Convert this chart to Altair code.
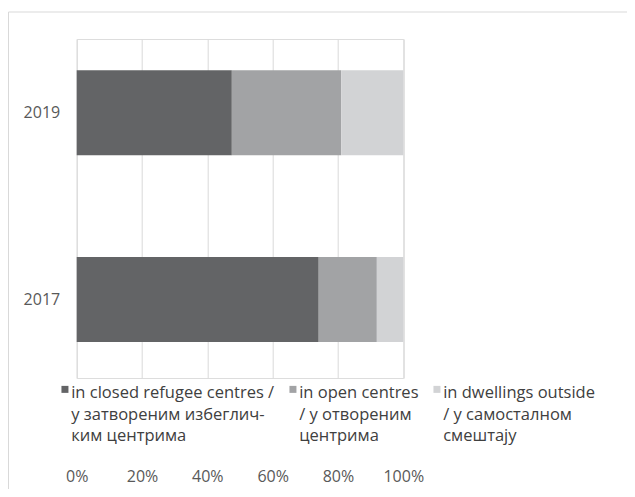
import altair as alt
import pandas as pd

years = ["2019", "2017"]
categories = ["closed", "open", "dwellings"]
closed_vals = [47.5, 74.1]
open_vals = [33.5, 17.8]
dwelling_vals = [19.0, 8.1]
legend_lines = [
    ["in closed refugee centres /", "у затвореним избеглич-", "ким центрима"],
    ["in open centres", "/ у отвореним", "центрима"],
    ["in dwellings outside", "/ у самосталном", "смештају"],
]
x_ticks = [0, 20, 40, 60, 80, 100]
colors = ["#636466", "#a2a3a5", "#d2d3d5"]

rows = []
for i, y in enumerate(years):
    for j, (c, v) in enumerate(zip(categories, [closed_vals[i], open_vals[i], dwelling_vals[i]])):
        rows.append({"year": y, "cat": c, "value": v, "ord": j})
df = pd.DataFrame(rows)

def arr(lines):
    return "[" + ",".join("'" + s + "'" for s in lines) + "]"

label_expr = " : ".join(
    f"datum.value == '{c}' ? {arr(l)}" for c, l in zip(categories[:-1], legend_lines[:-1])
) + " : " + arr(legend_lines[-1])

font = "Open Sans"
DY = -4
DX = -4

bars = alt.Chart(df).mark_bar(strokeWidth=0).encode(
    y=alt.Y("year:N", sort=years, title=None,
            scale=alt.Scale(paddingInner=0.545, paddingOuter=0.18, align=0.465),
            axis=alt.Axis(domain=False, ticks=False, labelPadding=17 + DX, labelFontSize=16,
                          labelOffset=-DY, labelColor="#595959", labelFont=font)),
    x=alt.X("value:Q", stack="zero", title=None,
            scale=alt.Scale(domain=[0, 100], nice=False),
            axis=alt.Axis(values=x_ticks, labelExpr="datum.value + '%'", domain=False, ticks=False,
                          grid=True, gridColor="#d9d9d9", labelPadding=90 - DY, labelOffset=-DX,
                          labelFontSize=16, labelFlush=False, labelColor="#595959", labelFont=font)),
    color=alt.Color("cat:N", scale=alt.Scale(domain=categories, range=colors),
                    legend=alt.Legend(title=None, orient="none", legendX=-20, legendY=342,
                                      direction="horizontal", columns=3, symbolType="square",
                                      symbolSize=49, symbolStrokeWidth=0, labelExpr=label_expr,
                                      labelFontSize=16.5, labelFont=font, labelColor="#404040",
                                      labelBaseline="top", labelOffset=2, columnPadding=10,
                                      labelLimit=400)),
    order=alt.Order("ord:Q"),
)

frame = alt.Chart(pd.DataFrame({"a": [0]})).mark_rect(fill=None, stroke="#d9d9d9", strokeWidth=1).encode(
    x=alt.value(-68.2), x2=alt.value(700), y=alt.value(-27), y2=alt.value(700)
)

chart = alt.layer(frame, bars).properties(
    width=326.6, height=339,
    padding={"left": 68.7, "top": 31, "right": 223.7, "bottom": 111},
    autosize=alt.AutoSizeParams(type="none"),
).configure_view(stroke=None).configure(
    style={"guide-label": {"lineHeight": 21.5, "dy": DY, "dx": DX}}
)

chart.save("out.html", embed_options={"renderer": "svg", "actions": False})
